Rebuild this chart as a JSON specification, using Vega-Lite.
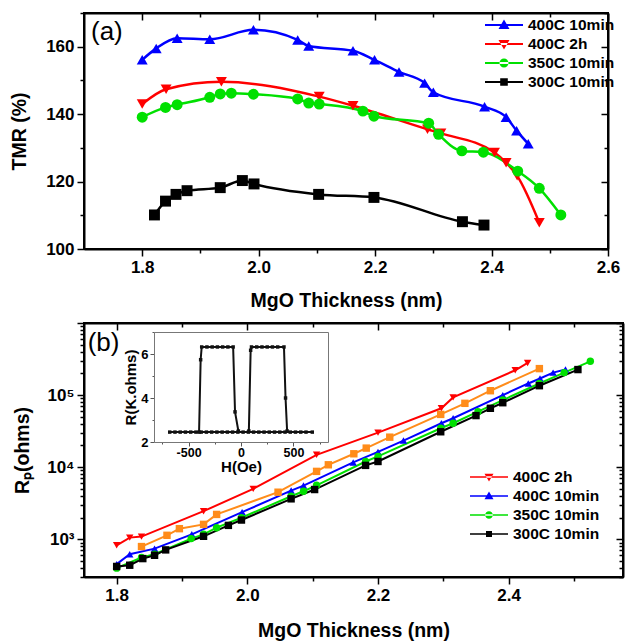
{
"$schema": "https://vega.github.io/schema/vega-lite/v6.json",
"background": "white",
"padding": {"left": 8, "top": 3, "right": 5, "bottom": 0},
"spacing": 2,
"config": {
  "font": "Liberation Sans",
  "view": {"stroke": "#000", "strokeWidth": 2},
  "axis": {"labelFont": "Liberation Sans", "labelFontWeight": "bold", "labelFontSize": 17, "labelColor": "#000", "titleFont": "Liberation Sans", "titleFontWeight": "bold", "titleFontSize": 19.5, "titleColor": "#000", "domainColor": "#000", "domainWidth": 2, "tickColor": "#000", "tickWidth": 1.5, "grid": false, "labelPadding": 3, "labelFlush": false, "labelOverlap": false},
  "legend": {"labelFont": "Liberation Sans", "labelFontWeight": "bold", "labelFontSize": 15.5, "labelColor": "#000", "padding": 0, "rowPadding": 0}
},
"datasets": {
  "tmr": [
    {"s": "400C 10min", "t": 1.800, "v": 156.1}, {"s": "400C 10min", "t": 1.824, "v": 159.5}, {"s": "400C 10min", "t": 1.860, "v": 162.5}, {"s": "400C 10min", "t": 1.916, "v": 162.2}, {"s": "400C 10min", "t": 1.991, "v": 165.0}, {"s": "400C 10min", "t": 2.067, "v": 162.0}, {"s": "400C 10min", "t": 2.086, "v": 160.2}, {"s": "400C 10min", "t": 2.162, "v": 158.8}, {"s": "400C 10min", "t": 2.199, "v": 156.1}, {"s": "400C 10min", "t": 2.241, "v": 152.5}, {"s": "400C 10min", "t": 2.285, "v": 149.2}, {"s": "400C 10min", "t": 2.300, "v": 146.5}, {"s": "400C 10min", "t": 2.388, "v": 142.2}, {"s": "400C 10min", "t": 2.425, "v": 139.1}, {"s": "400C 10min", "t": 2.443, "v": 135.1}, {"s": "400C 10min", "t": 2.463, "v": 131.2},
    {"s": "400C 2h", "t": 1.800, "v": 143.0}, {"s": "400C 2h", "t": 1.841, "v": 147.4}, {"s": "400C 2h", "t": 1.936, "v": 149.6}, {"s": "400C 2h", "t": 2.104, "v": 145.2}, {"s": "400C 2h", "t": 2.162, "v": 142.5}, {"s": "400C 2h", "t": 2.290, "v": 135.5}, {"s": "400C 2h", "t": 2.313, "v": 134.3}, {"s": "400C 2h", "t": 2.405, "v": 128.6}, {"s": "400C 2h", "t": 2.425, "v": 125.6}, {"s": "400C 2h", "t": 2.444, "v": 121.7}, {"s": "400C 2h", "t": 2.482, "v": 107.8},
    {"s": "350C 10min", "t": 1.800, "v": 139.1}, {"s": "350C 10min", "t": 1.840, "v": 142.0}, {"s": "350C 10min", "t": 1.860, "v": 142.8}, {"s": "350C 10min", "t": 1.916, "v": 145.0}, {"s": "350C 10min", "t": 1.934, "v": 146.0}, {"s": "350C 10min", "t": 1.953, "v": 146.2}, {"s": "350C 10min", "t": 1.991, "v": 145.9}, {"s": "350C 10min", "t": 2.067, "v": 144.5}, {"s": "350C 10min", "t": 2.086, "v": 143.3}, {"s": "350C 10min", "t": 2.104, "v": 143.0}, {"s": "350C 10min", "t": 2.179, "v": 140.9}, {"s": "350C 10min", "t": 2.198, "v": 139.4}, {"s": "350C 10min", "t": 2.292, "v": 137.3}, {"s": "350C 10min", "t": 2.309, "v": 134.0}, {"s": "350C 10min", "t": 2.349, "v": 129.1}, {"s": "350C 10min", "t": 2.386, "v": 128.7}, {"s": "350C 10min", "t": 2.445, "v": 123.1}, {"s": "350C 10min", "t": 2.482, "v": 118.0}, {"s": "350C 10min", "t": 2.519, "v": 110.1},
    {"s": "300C 10min", "t": 1.821, "v": 110.1}, {"s": "300C 10min", "t": 1.840, "v": 114.2}, {"s": "300C 10min", "t": 1.858, "v": 116.2}, {"s": "300C 10min", "t": 1.877, "v": 117.3}, {"s": "300C 10min", "t": 1.934, "v": 118.2}, {"s": "300C 10min", "t": 1.972, "v": 120.3}, {"s": "300C 10min", "t": 1.992, "v": 119.3}, {"s": "300C 10min", "t": 2.103, "v": 116.2}, {"s": "300C 10min", "t": 2.198, "v": 115.3}, {"s": "300C 10min", "t": 2.350, "v": 108.1}, {"s": "300C 10min", "t": 2.387, "v": 107.1}
  ],
  "rp": [
    {"s": "400C 2h", "t": 1.800, "r": 826}, {"s": "400C 2h", "t": 1.820, "r": 1055}, {"s": "400C 2h", "t": 1.838, "r": 1090}, {"s": "400C 2h", "t": 1.933, "r": 2455}, {"s": "400C 2h", "t": 2.009, "r": 5000}, {"s": "400C 2h", "t": 2.106, "r": 14860}, {"s": "400C 2h", "t": 2.200, "r": 30200}, {"s": "400C 2h", "t": 2.297, "r": 65600}, {"s": "400C 2h", "t": 2.315, "r": 92900}, {"s": "400C 2h", "t": 2.410, "r": 221000}, {"s": "400C 2h", "t": 2.429, "r": 279000},
    {"s": "other", "t": 1.838, "r": 793}, {"s": "other", "t": 1.877, "r": 1136}, {"s": "other", "t": 1.896, "r": 1404}, {"s": "other", "t": 1.933, "r": 1611}, {"s": "other", "t": 1.953, "r": 2213}, {"s": "other", "t": 2.047, "r": 4500}, {"s": "other", "t": 2.106, "r": 8750}, {"s": "other", "t": 2.124, "r": 10800}, {"s": "other", "t": 2.163, "r": 15350}, {"s": "other", "t": 2.182, "r": 18400}, {"s": "other", "t": 2.218, "r": 26100}, {"s": "other", "t": 2.296, "r": 54000}, {"s": "other", "t": 2.333, "r": 76900}, {"s": "other", "t": 2.372, "r": 115000}, {"s": "other", "t": 2.447, "r": 233000},
    {"s": "400C 10min", "t": 1.800, "r": 452}, {"s": "400C 10min", "t": 1.820, "r": 621}, {"s": "400C 10min", "t": 1.858, "r": 743}, {"s": "400C 10min", "t": 1.915, "r": 1172}, {"s": "400C 10min", "t": 1.992, "r": 2380}, {"s": "400C 10min", "t": 2.067, "r": 4740}, {"s": "400C 10min", "t": 2.086, "r": 5560}, {"s": "400C 10min", "t": 2.162, "r": 11650}, {"s": "400C 10min", "t": 2.200, "r": 16300}, {"s": "400C 10min", "t": 2.239, "r": 23400}, {"s": "400C 10min", "t": 2.297, "r": 40700}, {"s": "400C 10min", "t": 2.315, "r": 47800}, {"s": "400C 10min", "t": 2.391, "r": 100000}, {"s": "400C 10min", "t": 2.430, "r": 145000}, {"s": "400C 10min", "t": 2.448, "r": 170000}, {"s": "400C 10min", "t": 2.468, "r": 205000}, {"s": "400C 10min", "t": 2.487, "r": 226000},
    {"s": "350C 10min", "t": 1.800, "r": 398}, {"s": "350C 10min", "t": 1.838, "r": 559}, {"s": "350C 10min", "t": 1.858, "r": 621}, {"s": "350C 10min", "t": 1.914, "r": 1022}, {"s": "350C 10min", "t": 1.933, "r": 1172}, {"s": "350C 10min", "t": 1.953, "r": 1449}, {"s": "350C 10min", "t": 1.991, "r": 1992}, {"s": "350C 10min", "t": 2.067, "r": 3953}, {"s": "350C 10min", "t": 2.086, "r": 4640}, {"s": "350C 10min", "t": 2.106, "r": 5610}, {"s": "350C 10min", "t": 2.181, "r": 12000}, {"s": "350C 10min", "t": 2.200, "r": 14100}, {"s": "350C 10min", "t": 2.296, "r": 34700}, {"s": "350C 10min", "t": 2.315, "r": 40700}, {"s": "350C 10min", "t": 2.353, "r": 58900}, {"s": "350C 10min", "t": 2.391, "r": 85300}, {"s": "350C 10min", "t": 2.447, "r": 145000}, {"s": "350C 10min", "t": 2.485, "r": 205000}, {"s": "350C 10min", "t": 2.525, "r": 294000},
    {"s": "300C 10min", "t": 1.800, "r": 420}, {"s": "300C 10min", "t": 1.820, "r": 437}, {"s": "300C 10min", "t": 1.840, "r": 540}, {"s": "300C 10min", "t": 1.858, "r": 600}, {"s": "300C 10min", "t": 1.875, "r": 713}, {"s": "300C 10min", "t": 1.933, "r": 1100}, {"s": "300C 10min", "t": 1.971, "r": 1560}, {"s": "300C 10min", "t": 1.991, "r": 1850}, {"s": "300C 10min", "t": 2.067, "r": 3640}, {"s": "300C 10min", "t": 2.103, "r": 4900}, {"s": "300C 10min", "t": 2.181, "r": 10600}, {"s": "300C 10min", "t": 2.200, "r": 12000}, {"s": "300C 10min", "t": 2.296, "r": 31000}, {"s": "300C 10min", "t": 2.350, "r": 52000}, {"s": "300C 10min", "t": 2.372, "r": 65600}, {"s": "300C 10min", "t": 2.391, "r": 78400}, {"s": "300C 10min", "t": 2.447, "r": 135000}, {"s": "300C 10min", "t": 2.506, "r": 226000}
  ],
  "loop": [
    {"g": "base", "i": 1, "h": -680, "R": 2.45}, {"g": "base", "i": 2, "h": -630, "R": 2.45}, {"g": "base", "i": 3, "h": -580, "R": 2.45}, {"g": "base", "i": 4, "h": -530, "R": 2.45}, {"g": "base", "i": 5, "h": -480, "R": 2.45}, {"g": "base", "i": 6, "h": -430, "R": 2.45}, {"g": "base", "i": 7, "h": -380, "R": 2.45}, {"g": "base", "i": 8, "h": -330, "R": 2.45}, {"g": "base", "i": 9, "h": -280, "R": 2.45}, {"g": "base", "i": 10, "h": -230, "R": 2.45}, {"g": "base", "i": 11, "h": -180, "R": 2.45}, {"g": "base", "i": 12, "h": -130, "R": 2.45}, {"g": "base", "i": 13, "h": -80, "R": 2.45}, {"g": "base", "i": 14, "h": -30, "R": 2.45}, {"g": "base", "i": 15, "h": 20, "R": 2.45}, {"g": "base", "i": 16, "h": 70, "R": 2.45}, {"g": "base", "i": 17, "h": 120, "R": 2.45}, {"g": "base", "i": 18, "h": 170, "R": 2.45}, {"g": "base", "i": 19, "h": 220, "R": 2.45}, {"g": "base", "i": 20, "h": 270, "R": 2.45}, {"g": "base", "i": 21, "h": 320, "R": 2.45}, {"g": "base", "i": 22, "h": 370, "R": 2.45}, {"g": "base", "i": 23, "h": 420, "R": 2.45}, {"g": "base", "i": 24, "h": 470, "R": 2.45}, {"g": "base", "i": 25, "h": 520, "R": 2.45}, {"g": "base", "i": 26, "h": 570, "R": 2.45}, {"g": "base", "i": 27, "h": 620, "R": 2.45}, {"g": "base", "i": 28, "h": 680, "R": 2.45},
    {"g": "left", "i": 1, "h": -400, "R": 2.45}, {"g": "left", "i": 2, "h": -385, "R": 5.74}, {"g": "left", "i": 3, "h": -375, "R": 6.32}, {"g": "left", "i": 4, "h": -325, "R": 6.32}, {"g": "left", "i": 5, "h": -275, "R": 6.32}, {"g": "left", "i": 6, "h": -225, "R": 6.32}, {"g": "left", "i": 7, "h": -175, "R": 6.32}, {"g": "left", "i": 8, "h": -125, "R": 6.32}, {"g": "left", "i": 9, "h": -75, "R": 6.32}, {"g": "left", "i": 10, "h": -57, "R": 3.37}, {"g": "left", "i": 11, "h": -25, "R": 2.5},
    {"g": "right", "i": 1, "h": 75, "R": 2.5}, {"g": "right", "i": 2, "h": 92, "R": 6.17}, {"g": "right", "i": 3, "h": 100, "R": 6.32}, {"g": "right", "i": 4, "h": 150, "R": 6.32}, {"g": "right", "i": 5, "h": 200, "R": 6.32}, {"g": "right", "i": 6, "h": 250, "R": 6.32}, {"g": "right", "i": 7, "h": 300, "R": 6.32}, {"g": "right", "i": 8, "h": 350, "R": 6.32}, {"g": "right", "i": 9, "h": 410, "R": 6.32}, {"g": "right", "i": 10, "h": 425, "R": 4.0}, {"g": "right", "i": 11, "h": 440, "R": 2.5}
  ]
},
"resolve": {"scale": {"color": "independent", "shape": "independent"}, "legend": {"color": "independent", "shape": "independent"}},
"vconcat": [
  {
    "width": 524, "height": 236,
    "resolve": {"axis": {"x": "independent", "y": "independent"}, "scale": {"color": "independent", "shape": "independent"}, "legend": {"color": "independent", "shape": "independent"}},
    "layer": [
      {
        "data": {"name": "tmr"},
        "mark": {"type": "line", "strokeWidth": 2.5, "interpolate": "monotone"},
        "encoding": {
          "x": {"field": "t", "type": "quantitative", "scale": {"domain": [1.7, 2.6], "nice": false, "zero": false},
                "axis": {"orient": "bottom", "values": [1.8, 1.9, 2.0, 2.1, 2.2, 2.3, 2.4, 2.5, 2.6], "labelExpr": "round(datum.value*10)%2==0 ? format(datum.value,'.1f') : ''", "tickSize": {"condition": {"test": "round(datum.value*10)%2==0", "value": 7}, "value": 4}, "title": "MgO Thickness (nm)", "titlePadding": 16}},
          "y": {"field": "v", "type": "quantitative", "scale": {"domain": [100, 170], "nice": false, "zero": false},
                "axis": {"orient": "left", "values": [100, 110, 120, 130, 140, 150, 160, 170], "labelExpr": "datum.value%20==0 ? datum.label : ''", "tickSize": {"condition": {"test": "datum.value%20==0", "value": 7}, "value": 4}, "title": "TMR (%)", "titlePadding": 20, "minExtent": 35, "maxExtent": 35}},
          "color": {"field": "s", "type": "nominal", "scale": {"domain": ["400C 10min", "400C 2h", "350C 10min", "300C 10min"], "range": ["#0000FF", "#FF0000", "#00E000", "#000000"]}, "legend": null}
        }
      },
      {
        "data": {"name": "tmr"},
        "mark": {"type": "point", "filled": true, "opacity": 1, "size": 120},
        "encoding": {
          "x": {"field": "t", "type": "quantitative", "scale": {"domain": [1.7, 2.6], "nice": false, "zero": false}, "axis": null},
          "y": {"field": "v", "type": "quantitative", "scale": {"domain": [100, 170], "nice": false, "zero": false}, "axis": null},
          "color": {"field": "s", "type": "nominal", "scale": {"domain": ["400C 10min", "400C 2h", "350C 10min", "300C 10min"], "range": ["#0000FF", "#FF0000", "#00E000", "#000000"]}, "legend": null},
          "shape": {"field": "s", "type": "nominal", "scale": {"domain": ["400C 10min", "400C 2h", "350C 10min", "300C 10min"], "range": ["triangle-up", "triangle-down", "circle", "square"]}, "legend": null}
        }
      },
      {
        "data": {"name": "tmr"},
        "transform": [{"filter": "false"}],
        "mark": {"type": "point", "filled": true, "opacity": 1},
        "encoding": {
          "x": {"field": "t", "type": "quantitative", "scale": {"domain": [1.7, 2.6], "nice": false, "zero": false},
                "axis": {"orient": "top", "values": [1.8, 1.9, 2.0, 2.1, 2.2, 2.3, 2.4, 2.5, 2.6], "labels": false, "title": null, "tickSize": {"condition": {"test": "round(datum.value*10)%2==0", "value": -7}, "value": -4}}},
          "y": {"field": "v", "type": "quantitative", "scale": {"domain": [100, 170], "nice": false, "zero": false},
                "axis": {"orient": "right", "values": [100, 110, 120, 130, 140, 150, 160, 170], "labels": false, "title": null, "tickSize": {"condition": {"test": "datum.value%20==0", "value": -7}, "value": -4}}},
          "color": {"field": "s", "type": "nominal", "scale": {"domain": ["400C 10min", "400C 2h", "350C 10min", "300C 10min"], "range": ["#0000FF", "#FF0000", "#00E000", "#000000"]},
                    "legend": {"orient": "none", "legendX": 410, "legendY": 2, "title": null, "symbolSize": 400, "labelOffset": 14, "symbolStrokeWidth": 0}},
          "shape": {"field": "s", "type": "nominal", "scale": {"domain": ["400C 10min", "400C 2h", "350C 10min", "300C 10min"],
                    "range": ["M-1.9,-0.1H1.9V0.1H-1.9Z M0,-0.55L0.55,0.4L-0.55,0.4Z", "M-1.9,-0.1H1.9V0.1H-1.9Z M0,0.55L0.55,-0.4L-0.55,-0.4Z", "M-1.9,-0.1H1.9V0.1H-1.9Z M-0.45,0A0.45,0.45 0 1,0 0.45,0A0.45,0.45 0 1,0 -0.45,0Z", "M-1.9,-0.1H1.9V0.1H-1.9Z M-0.38,-0.38H0.38V0.38H-0.38Z"]},
                    "legend": {"orient": "none", "legendX": 410, "legendY": 2, "title": null, "symbolSize": 400, "labelOffset": 14, "symbolStrokeWidth": 0}}
        }
      },
      {
        "data": {"values": [{"lab": "(a)", "t": 1.712, "v": 164.4}]},
        "mark": {"type": "text", "align": "left", "baseline": "middle", "fontSize": 26, "font": "Liberation Sans", "color": "#000"},
        "encoding": {
          "x": {"field": "t", "type": "quantitative", "scale": {"domain": [1.7, 2.6], "nice": false, "zero": false}, "axis": null},
          "y": {"field": "v", "type": "quantitative", "scale": {"domain": [100, 170], "nice": false, "zero": false}, "axis": null},
          "text": {"field": "lab"}
        }
      }
    ]
  },
  {
    "width": 539, "height": 254,
    "resolve": {"axis": {"x": "independent", "y": "independent"}, "scale": {"x": "independent", "y": "independent", "color": "independent", "shape": "independent"}, "legend": {"color": "independent", "shape": "independent"}},
    "layer": [
      {
        "data": {"name": "rp"},
        "mark": {"type": "line", "strokeWidth": 2},
        "encoding": {
          "x": {"field": "t", "type": "quantitative", "scale": {"domain": [1.75, 2.575], "nice": false, "zero": false},
                "axis": {"orient": "bottom", "values": [1.8, 1.9, 2.0, 2.1, 2.2, 2.3, 2.4, 2.5], "labelExpr": "round(datum.value*10)%2==0 ? format(datum.value,'.1f') : ''", "tickSize": {"condition": {"test": "round(datum.value*10)%2==0", "value": 7}, "value": 4}, "title": "MgO Thickness (nm)", "titlePadding": 18}},
          "y": {"field": "r", "type": "quantitative", "scale": {"type": "log", "domain": [300, 1000000], "nice": false},
                "axis": {"orient": "left", "values": [300, 400, 500, 600, 700, 800, 900, 1000, 2000, 3000, 4000, 5000, 6000, 7000, 8000, 9000, 10000, 20000, 30000, 40000, 50000, 60000, 70000, 80000, 90000, 100000, 200000, 300000, 400000, 500000, 600000, 700000, 800000, 900000, 1000000],
                         "labelExpr": "datum.value==1000 ? '10³' : datum.value==10000 ? '10⁴' : datum.value==100000 ? '10⁵' : ''",
                         "tickSize": {"condition": {"test": "datum.value==1000 || datum.value==10000 || datum.value==100000 || datum.value==1000000", "value": 7}, "value": 4},
                         "title": "Rₚ(ohms)", "titlePadding": 17, "minExtent": 35, "maxExtent": 35}},
          "color": {"field": "s", "type": "nominal", "scale": {"domain": ["400C 2h", "400C 10min", "350C 10min", "300C 10min", "other"], "range": ["#FF0000", "#0000FF", "#00E000", "#000000", "#FF8C1A"]}, "legend": null}
        }
      },
      {
        "data": {"name": "rp"},
        "mark": {"type": "point", "filled": true, "opacity": 1, "size": 55},
        "encoding": {
          "x": {"field": "t", "type": "quantitative", "scale": {"domain": [1.75, 2.575], "nice": false, "zero": false}, "axis": null},
          "y": {"field": "r", "type": "quantitative", "scale": {"type": "log", "domain": [300, 1000000], "nice": false}, "axis": null},
          "color": {"field": "s", "type": "nominal", "scale": {"domain": ["400C 2h", "400C 10min", "350C 10min", "300C 10min", "other"], "range": ["#FF0000", "#0000FF", "#00E000", "#000000", "#FF8C1A"]}, "legend": null},
          "shape": {"field": "s", "type": "nominal", "scale": {"domain": ["400C 2h", "400C 10min", "350C 10min", "300C 10min", "other"], "range": ["triangle-down", "triangle-up", "circle", "square", "square"]}, "legend": null}
        }
      },
      {
        "data": {"name": "rp"},
        "transform": [{"filter": "false"}],
        "mark": {"type": "point", "filled": true, "opacity": 1},
        "encoding": {
          "x": {"field": "t", "type": "quantitative", "scale": {"domain": [1.75, 2.575], "nice": false, "zero": false},
                "axis": {"orient": "top", "values": [1.8, 1.9, 2.0, 2.1, 2.2, 2.3, 2.4, 2.5], "labels": false, "title": null, "tickSize": {"condition": {"test": "round(datum.value*10)%2==0", "value": -7}, "value": -4}}},
          "y": {"field": "r", "type": "quantitative", "scale": {"type": "log", "domain": [300, 1000000], "nice": false},
                "axis": {"orient": "right", "values": [300, 400, 500, 600, 700, 800, 900, 1000, 2000, 3000, 4000, 5000, 6000, 7000, 8000, 9000, 10000, 20000, 30000, 40000, 50000, 60000, 70000, 80000, 90000, 100000, 200000, 300000, 400000, 500000, 600000, 700000, 800000, 900000, 1000000], "labels": false, "title": null,
                         "tickSize": {"condition": {"test": "datum.value==1000 || datum.value==10000 || datum.value==100000 || datum.value==1000000", "value": -7}, "value": -4}}},
          "color": {"field": "s", "type": "nominal", "scale": {"domain": ["400C 2h", "400C 10min", "350C 10min", "300C 10min"], "range": ["#FF0000", "#0000FF", "#00E000", "#000000"]},
                    "legend": {"orient": "none", "legendX": 395, "legendY": 144, "title": null, "symbolSize": 400, "labelOffset": 14, "symbolStrokeWidth": 0}},
          "shape": {"field": "s", "type": "nominal", "scale": {"domain": ["400C 2h", "400C 10min", "350C 10min", "300C 10min"],
                    "range": ["M-1.9,-0.08H1.9V0.08H-1.9Z M0,0.45L0.45,-0.33L-0.45,-0.33Z", "M-1.9,-0.08H1.9V0.08H-1.9Z M0,-0.45L0.45,0.33L-0.45,0.33Z", "M-1.9,-0.08H1.9V0.08H-1.9Z M-0.38,0A0.38,0.38 0 1,0 0.38,0A0.38,0.38 0 1,0 -0.38,0Z", "M-1.9,-0.08H1.9V0.08H-1.9Z M-0.3,-0.3H0.3V0.3H-0.3Z"]},
                    "legend": {"orient": "none", "legendX": 395, "legendY": 144, "title": null, "symbolSize": 400, "labelOffset": 14, "symbolStrokeWidth": 0}}
        }
      },
      {
        "data": {"values": [{"lab": "(b)", "t": 1.7556, "r": 521000}]},
        "mark": {"type": "text", "align": "left", "baseline": "middle", "fontSize": 26, "font": "Liberation Sans", "color": "#000"},
        "encoding": {
          "x": {"field": "t", "type": "quantitative", "scale": {"domain": [1.75, 2.575], "nice": false, "zero": false}, "axis": null},
          "y": {"field": "r", "type": "quantitative", "scale": {"type": "log", "domain": [300, 1000000], "nice": false}, "axis": null},
          "text": {"field": "lab"}
        }
      },
      {
        "data": {"name": "loop"},
        "mark": {"type": "line", "strokeWidth": 2, "color": "#111"},
        "encoding": {
          "x": {"field": "h", "type": "quantitative", "scale": {"domain": [-830, 830], "range": [70, 244], "nice": false, "zero": false},
                "axis": {"orient": "bottom", "offset": -135, "values": [-750, -500, -250, 0, 250, 500, 750], "labelExpr": "datum.value==-500 ? '-500' : datum.value==0 ? '0' : datum.value==500 ? '500' : ''", "tickSize": {"condition": {"test": "datum.value%500==0", "value": 4}, "value": 2}, "labelFontSize": 12.5, "labelPadding": 0, "title": "H(Oe)", "titleFontSize": 15, "titlePadding": 1, "domainColor": "#777", "domainWidth": 1, "tickColor": "#555", "tickWidth": 1}},
          "y": {"field": "R", "type": "quantitative", "scale": {"domain": [2, 7], "range": [119, 9], "nice": false, "zero": false},
                "axis": {"orient": "left", "offset": -70, "values": [2, 3, 4, 5, 6, 7], "labelExpr": "datum.value%2==0 ? datum.label : ''", "tickSize": {"condition": {"test": "datum.value%2==0", "value": 4}, "value": 2}, "labelFontSize": 13, "labelPadding": 2, "title": "R(K.ohms)", "titleFontSize": 15, "titlePadding": 2, "domainColor": "#777", "domainWidth": 1, "tickColor": "#555", "tickWidth": 1}},
          "detail": {"field": "g"},
          "order": {"field": "i", "type": "quantitative"}
        }
      },
      {
        "data": {"name": "loop"},
        "mark": {"type": "square", "size": 12, "color": "#111", "opacity": 1},
        "encoding": {
          "x": {"field": "h", "type": "quantitative", "scale": {"domain": [-830, 830], "range": [70, 244], "nice": false, "zero": false}, "axis": null},
          "y": {"field": "R", "type": "quantitative", "scale": {"domain": [2, 7], "range": [119, 9], "nice": false, "zero": false}, "axis": null}
        }
      },
      {
        "data": {"name": "loop"},
        "transform": [{"filter": "false"}],
        "mark": {"type": "point"},
        "encoding": {
          "x": {"field": "h", "type": "quantitative", "scale": {"domain": [-830, 830], "range": [70, 244], "nice": false, "zero": false},
                "axis": {"orient": "top", "offset": -9, "ticks": false, "labels": false, "title": null, "domainColor": "#777", "domainWidth": 1}},
          "y": {"field": "R", "type": "quantitative", "scale": {"domain": [2, 7], "range": [119, 9], "nice": false, "zero": false},
                "axis": {"orient": "right", "offset": -295, "ticks": false, "labels": false, "title": null, "domainColor": "#777", "domainWidth": 1}}
        }
      }
    ]
  }
]
}
